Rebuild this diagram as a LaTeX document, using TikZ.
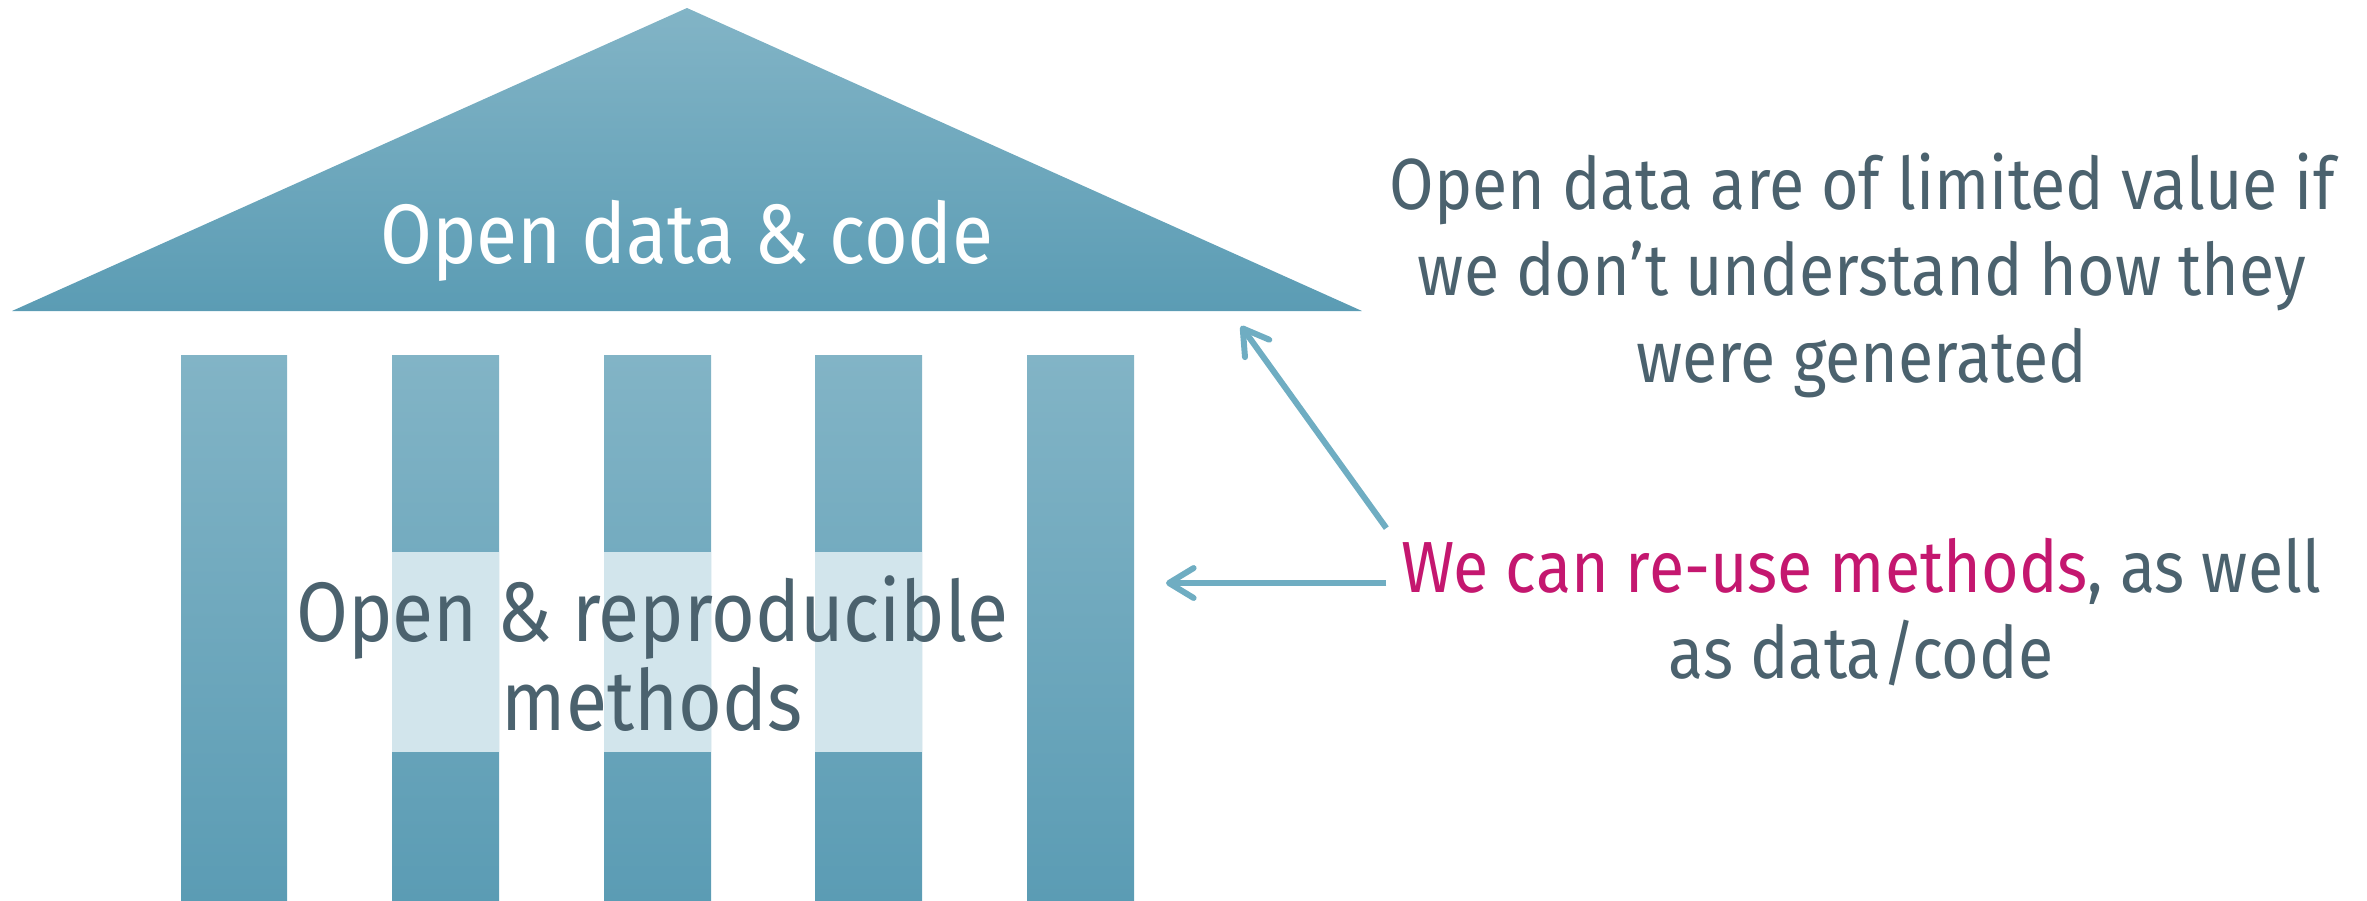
\documentclass[tikz,border=0pt]{standalone}
\usepackage{fontspec}
\setmainfont[FakeStretch=0.89]{Fira Sans}
\usetikzlibrary{arrows.meta}
\definecolor{pillartop}{HTML}{82B4C6}
\definecolor{pillarbot}{HTML}{5B9CB4}
\definecolor{band}{HTML}{D2E5EC}
\definecolor{slate}{HTML}{4B626E}
\definecolor{berry}{HTML}{C4176F}
\definecolor{pointer}{HTML}{6FADC2}
\tikzstyle{pillar}=[top color=pillartop, bottom color=pillarbot]
\tikzstyle{note}=[text=slate, align=center, inner sep=0pt, font=\fontsize{20.6}{24.6}\selectfont]
\tikzstyle{label}=[align=center, inner sep=0pt, font=\fontsize{24}{25.3}\selectfont]
\tikzstyle{arrow}=[draw=pointer, line width=1.7pt, -{Straight Barb[length=7pt,width=8.5pt,round]}]

\begin{document}
\begin{tikzpicture}[x=0.01cm, y=-0.01cm]
    \useasboundingbox (0,0) rectangle (2367,900);
% Roof
    \shade[pillar] (12,311) -- (687,8) -- (1362,311) -- cycle;
    \node[label, text=white] (roof) at (687,241) {Open data \& code};
% Pillars
    \shade[pillar] (181,355) rectangle (287,900);
    \shade[pillar] (392,355) rectangle (499,900);
    \shade[pillar] (604,355) rectangle (711,900);
    \shade[pillar] (815,355) rectangle (922,900);
    \shade[pillar] (1027,355) rectangle (1134,900);
% Light band behind the methods label
    \fill[band] (392,552) rectangle (499,752);
    \fill[band] (604,552) rectangle (711,752);
    \fill[band] (815,552) rectangle (922,752);
    \node[label, text=slate] (methods) at (652,654) {Open \& reproducible\\methods};
% Notes on the right
    \node[note] (limits) at (1862,275) {Open data are of limited value if\\we don’t understand how they\\were generated};
    \node[note] (reuse) at (1861,612) {\textcolor{berry}{We can re-use methods}, as well\\as data/code};
% Arrows
    \coordinate (eaves) at (1241,326);
    \coordinate (shaft) at (1166,583);
    \coordinate (tail) at ([shift={(-14,-9)}]reuse.north west);
    \draw[arrow] (tail) -- (eaves);
    \draw[arrow] (tail |- shaft) -- (shaft);
\end{tikzpicture}
\end{document}
